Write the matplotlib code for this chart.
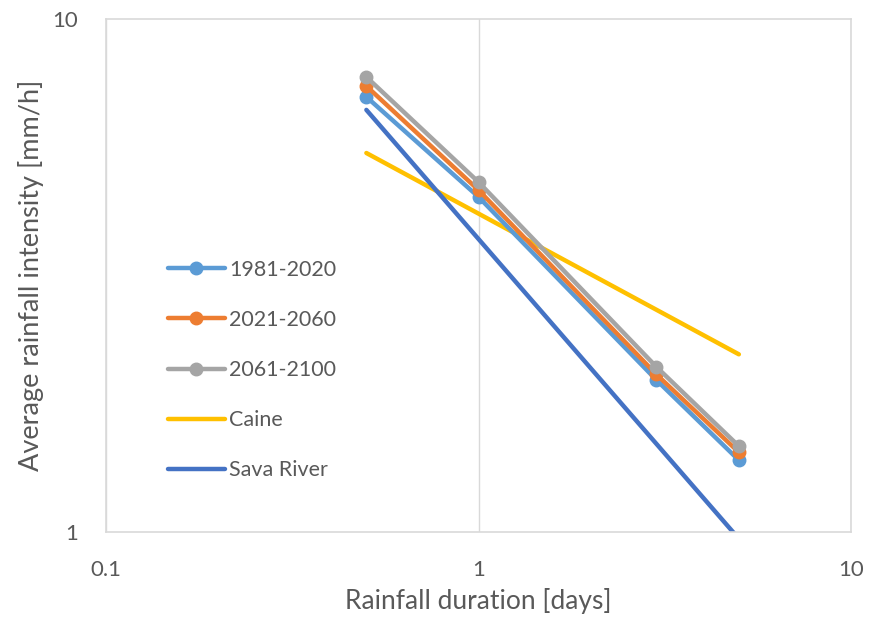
import matplotlib
matplotlib.use("Agg")
import matplotlib.pyplot as plt
from matplotlib.ticker import FixedLocator, FixedFormatter, NullLocator

# Rainfall duration [days] and average intensity [mm/h]
durations = [0.5, 1, 3, 5]
intensity_1981_2020 = [7.05, 4.50, 1.98, 1.38]
intensity_2021_2060 = [7.40, 4.64, 2.03, 1.43]
intensity_2061_2100 = [7.71, 4.81, 2.10, 1.47]

threshold_durations = [0.5, 5]
caine = [5.48, 2.22]
sava_river = [6.65, 0.97]

x_ticks = [0.1, 1, 10]
x_tick_labels = ["0.1", "1", "10"]
y_ticks = [1, 10]
y_tick_labels = ["1", "10"]

text_color = "#595959"
font = "Lato"

fig = plt.figure(figsize=(8.8, 6.27), dpi=100)
ax = fig.add_axes([106 / 880, 1 - 532 / 627, (851 - 106) / 880, (532 - 19) / 627])
ax.set_xscale("log")
ax.set_yscale("log")
ax.set_xlim(0.1, 10)
ax.set_ylim(1, 10)

lw = 3.2
ms = 9
ax.plot(durations, intensity_1981_2020, color="#5B9BD5", lw=lw, marker="o",
        ms=ms, label="1981-2020", zorder=3, solid_capstyle="round")
ax.plot(durations, intensity_2021_2060, color="#ED7D31", lw=lw, marker="o",
        ms=ms, label="2021-2060", zorder=4, solid_capstyle="round")
ax.plot(durations, intensity_2061_2100, color="#A5A5A5", lw=lw, marker="o",
        ms=ms, label="2061-2100", zorder=5, solid_capstyle="round")
ax.plot(threshold_durations, caine, color="#FFC000", lw=lw, label="Caine",
        zorder=2, solid_capstyle="round")
ax.plot(threshold_durations, sava_river, color="#4472C4", lw=lw,
        label="Sava River", zorder=2, solid_capstyle="round")

ax.xaxis.set_major_locator(FixedLocator(x_ticks))
ax.xaxis.set_major_formatter(FixedFormatter(x_tick_labels))
ax.yaxis.set_major_locator(FixedLocator(y_ticks))
ax.yaxis.set_major_formatter(FixedFormatter(y_tick_labels))
ax.xaxis.set_minor_locator(NullLocator())
ax.yaxis.set_minor_locator(NullLocator())
ax.tick_params(length=0, labelsize=16, labelcolor=text_color)
ax.tick_params(axis="x", pad=20)
ax.tick_params(axis="y", pad=20)
for lab in ax.get_xticklabels() + ax.get_yticklabels():
    lab.set_fontfamily(font)

ax.grid(True, axis="x", color="#D9D9D9", lw=1, zorder=0)
for s in ax.spines.values():
    s.set_color("#D9D9D9")
    s.set_linewidth(1.2)

ax.set_xlabel("Rainfall duration [days]", fontsize=19, color=text_color,
              family=font, labelpad=6)
ax.set_ylabel("Average rainfall intensity [mm/h]", fontsize=19.5,
              color=text_color, family=font)
ax.yaxis.set_label_coords((44 - 106) / 745, 0.5)

leg = ax.legend(loc="upper left", bbox_to_anchor=(157 / 880, 1 - 249 / 627),
                bbox_transform=fig.transFigure, frameon=False,
                prop={"family": font, "size": 15.5}, borderpad=0,
                handlelength=2.65, handletextpad=0.2, labelspacing=1.4)
for t in leg.get_texts():
    t.set_color(text_color)

fig.savefig("out.png", dpi=100)
